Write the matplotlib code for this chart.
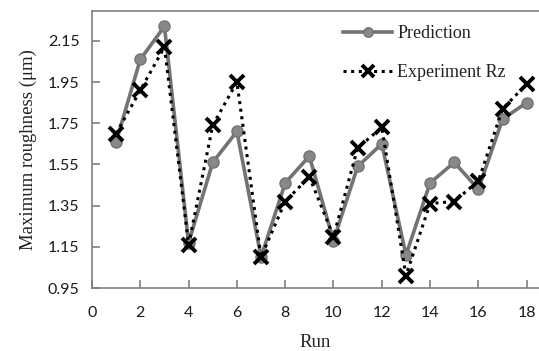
import matplotlib.pyplot as plt

# surface roughness per run
runs = list(range(1, 19))
prediction = [1.66, 2.06, 2.22, 1.17, 1.56, 1.71, 1.10, 1.46, 1.59,
              1.18, 1.54, 1.65, 1.11, 1.46, 1.56, 1.43, 1.77, 1.85]
experiment = [1.70, 1.91, 2.12, 1.16, 1.74, 1.95, 1.10, 1.37, 1.49,
              1.20, 1.63, 1.73, 1.01, 1.36, 1.37, 1.47, 1.82, 1.94]
xticks = list(range(0, 20, 2))
yticks = [0.95, 1.15, 1.35, 1.55, 1.75, 1.95, 2.15]

serif = 'Liberation Serif'
tickfont = 'Lato'

fig = plt.figure(figsize=(5.39, 3.51), dpi=100)
ax = fig.add_axes([92/539, 1 - 288/351, (539 - 92)/539, (288 - 11)/351])

ax.plot(runs, prediction, color='#737373', lw=2.6, marker='o', ms=8,
        mfc='#888888', mec='#737373', label='Prediction', zorder=2)
ax.plot(runs, experiment, color='black', lw=2.2, ls=(0, (1, 1.5)), marker='x',
        ms=10, mew=2.8, label='Experiment Rz', zorder=3)

ax.set_xlim(0, (539 - 92) / 24.15)
ax.set_ylim(0.95, 2.295)
ax.set_xticks(xticks)
ax.set_yticks(yticks)
ax.set_yticklabels(['%.2f' % v for v in yticks])

for s in ['left', 'bottom', 'top']:
    ax.spines[s].set_color('#808080')
    ax.spines[s].set_linewidth(1.2)
ax.spines['right'].set_visible(False)
ax.tick_params(direction='in', length=6, width=1.2, color='#808080',
               labelsize=11.5, labelcolor='#1a1a1a')
ax.tick_params(axis='x', pad=13)
ax.tick_params(axis='y', pad=9)
for lab in ax.get_xticklabels() + ax.get_yticklabels():
    lab.set_fontfamily(tickfont)

ax.set_xlabel('Run', fontfamily=serif, fontsize=13.5, color='#222222', labelpad=10)
ax.set_ylabel('Maximum roughness (\u03bcm)', fontfamily=serif, fontsize=13.5,
              color='#222222', labelpad=8)

leg = ax.legend(loc='upper left', bbox_to_anchor=(0.562, 0.95), frameon=False,
                prop={'family': serif, 'size': 13}, labelspacing=1.22,
                handlelength=2.7, handletextpad=0.3, borderpad=0,
                borderaxespad=0, labelcolor='#222222', markerscale=0.85)

plt.savefig('out.png', dpi=100)
